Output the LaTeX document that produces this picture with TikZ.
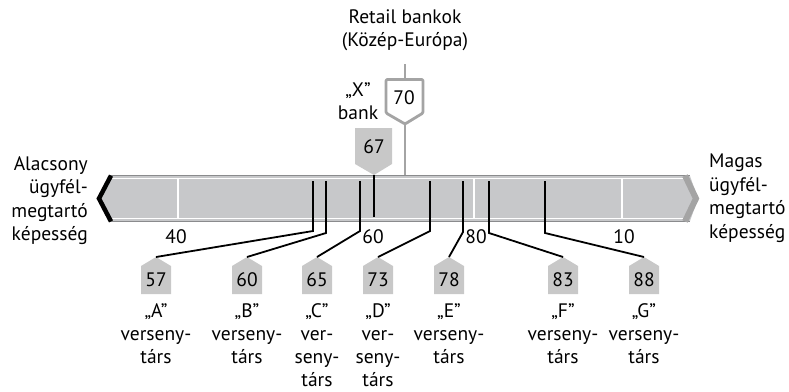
\documentclass[tikz,border=0pt]{standalone}
\usepackage{fontspec}
\setmainfont{PT Sans}
\definecolor{barfill}{HTML}{C7C8CA}
\definecolor{barline}{HTML}{8A8B8D}
\definecolor{markfill}{HTML}{C8C8C8}
\definecolor{markline}{HTML}{A4A4A4}
\newcommand\upmark[3]{%
  \fill[markfill] (#2,257) -- (#2+15,266) -- (#2+15,294) -- (#2-15,294) -- (#2-15,266) -- cycle;
  \coordinate (#1tip) at (#2,257);
  \node[txt] (#1) at (#2,280) {#3};}
\begin{document}
\begin{tikzpicture}[x=1pt,y=-1pt,
  txt/.style={font=\fontsize{19.5}{23.5}\selectfont, inner sep=0pt},
  ticker/.style={line width=1.8pt, black},
  divider/.style={line width=1.6pt, white}]
\useasboundingbox (0,0) rectangle (789,391);
% bar
\fill[barfill] (110,176) -- (690,176) -- (698,198.5) -- (690,221) -- (110,221) -- (98,198.5) -- cycle;
\draw[barline, line width=1.2pt] (110,175.6) -- (690,175.6);
\draw[barline, line width=1.2pt] (110,221.4) -- (690,221.4);
\draw[white, line width=1.1pt] (112,178.6) -- (688,178.6);
\draw[white, line width=1.1pt] (112,218.8) -- (688,218.8);
\foreach \x in {178,474,622} \draw[divider] (\x,178.6) -- (\x,218.8);
\draw[black, line width=4.5pt, miter limit=10] (111,175.6) -- (99,198.5) -- (111,221.4);
\draw[markline, line width=6pt, miter limit=10] (685,175.6) -- (696,198.5) -- (685,221.4);
% end labels
\node[txt, align=right, anchor=north east] (low) at (88,156) {Alacsony\\ügyfél-\\megtartó\\képesség};
\node[txt, align=left, anchor=north west] (high) at (709,154) {Magas\\ügyfél-\\megtartó\\képesség};
% scale labels
\node[txt] (s40) at (176,237) {40};
\node[txt] (s60) at (373,237) {60};
\node[txt] (s80) at (476,237) {80};
\node[txt] (s10) at (624,237) {10};
% Retail banks marker
\node[txt, align=center, anchor=north] (retail) at (405,9) {Retail bankok\\(Közép-Európa)};
\coordinate (rtop) at (405,64);
\coordinate (rbar) at (405,175);
\draw[markline, line width=2.8pt, fill=white, rounded corners=1.2pt, line join=round] (386,79.5) -- (423,79.5) -- (423,113) -- (405,124) -- (386,113) -- cycle;
\coordinate (rtip) at (405,124);
\coordinate (rhead) at (405,79.5);
\draw[markline, line width=2.8pt] (rtop) -- (rhead);
\draw[markline, line width=2.8pt] (rtip) -- (rbar);
\node[txt] (n70) at (404,98) {70};
% X bank marker
\node[txt, align=center, anchor=north] (xbank) at (358,82) {„X”\\bank};
\fill[markfill] (355,128) -- (392,128) -- (392,164) -- (374,175) -- (355,164) -- cycle;
\coordinate (xtip) at (374,175);
\coordinate (xend) at (374,217);
\node[txt] (n67) at (374,147) {67};
\draw[ticker] (xtip) -- (xend);
% competitor markers
\upmark{mA}{156}{57}
\upmark{mB}{247}{60}
\upmark{mC}{317}{65}
\upmark{mD}{378}{73}
\upmark{mE}{449}{78}
\upmark{mF}{563}{83}
\upmark{mG}{644}{88}
% ticks
\foreach \n/\x/\y in {A/313/231,B/326/233,C/360/231,D/430/231,E/463/232,F/489/233,G/545/233}{
  \coordinate (t\n) at (\x,181);
  \coordinate (b\n) at (\x,\y);
  \draw[ticker] (t\n) -- (b\n) -- (m\n tip);
}
% competitor labels
\tikzset{comp/.style={txt, align=center, anchor=north, font=\fontsize{19.5}{23}\selectfont}}
\node[comp] (lA) at (156,303) {„A”\\verseny-\\társ};
\node[comp] (lB) at (247,303) {„B”\\verseny-\\társ};
\node[comp] (lC) at (317,303) {„C”\\ver-\\seny-\\társ};
\node[comp] (lD) at (378,303) {„D”\\ver-\\seny-\\társ};
\node[comp] (lE) at (449,303) {„E”\\verseny-\\társ};
\node[comp] (lF) at (563,303) {„F”\\verseny-\\társ};
\node[comp] (lG) at (644,303) {„G”\\verseny-\\társ};
\end{tikzpicture}
\end{document}
